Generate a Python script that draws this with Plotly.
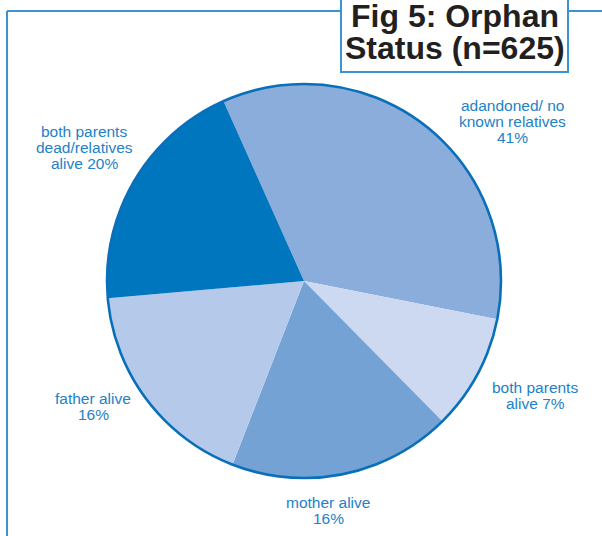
import plotly.graph_objects as go

# ---- data ----
categories = ["adandoned/ no<br>known relatives", "both parents<br>alive", "mother alive",
              "father alive", "both parents<br>dead/relatives<br>alive"]
slice_values = [34.8, 9.5, 18.3, 17.7, 19.7]          # slice sizes as drawn
label_pcts = ["41%", "7%", "16%", "16%", "20%"]          # printed percentages
slice_colors = ["#8aaddb", "#cdd9f0", "#74a2d5", "#b5caea", "#0076bf"]
title_lines = ["Fig 5: Orphan", "Status (n=625)"]

# label text as printed (line breaks as in the reference)
label_texts = [
    "adandoned/ no<br>known relatives<br>41%",
    "both parents<br>alive 7%",
    "mother alive<br>16%",
    "father alive<br>16%",
    "both parents<br>dead/relatives<br>alive 20%",
]
# label block centres (pixels) and first line y
label_pos = [(512, 105), (535, 387), (328, 502), (93, 398), (84, 131)]

W, H = 602, 536
def px(x):
    return x / W
def py(y):
    return 1 - y / H

cx, cy, r = 304, 281, 197
dom_x = [px(cx - r), px(cx + r)]
dom_y = [py(cy + r), py(cy - r)]

fig = go.Figure()
fig.add_trace(go.Pie(
    values=slice_values, labels=categories, sort=False, direction="clockwise",
    rotation=-24.1, marker=dict(colors=slice_colors, line=dict(width=0)),
    textinfo="none", hoverinfo="label+percent", domain=dict(x=dom_x, y=dom_y),
    showlegend=False,
))
# outer outline of the pie
fig.add_trace(go.Pie(
    values=[1], labels=["outline"], sort=False,
    marker=dict(colors=["rgba(0,0,0,0)"], line=dict(color="#0a6fb9", width=2.6)),
    textinfo="none", hoverinfo="skip", domain=dict(x=dom_x, y=dom_y),
    showlegend=False,
))

label_color = "#2381c6"
annotations = []
for text, (x, y0) in zip(label_texts, label_pos):
    for i, line in enumerate(text.split("<br>")):
        annotations.append(dict(
            x=px(x), y=py(y0 + 16 * i), xref="paper", yref="paper",
            text=line, showarrow=False, xanchor="center", yanchor="middle",
            font=dict(family="Liberation Sans, Arial, sans-serif", size=15.5, color=label_color),
        ))

for i, line in enumerate(title_lines):
    annotations.append(dict(
        x=px(454.5), y=py(16 + 32 * i), xref="paper", yref="paper",
        text="<b>" + line + "</b>", showarrow=False, xanchor="center", yanchor="middle",
        font=dict(family="Liberation Sans, Arial, sans-serif", size=32, color="#231f20"),
    ))

frame_color = "#3b93d2"
shapes = [
    # frame: top and left lines
    dict(type="line", xref="paper", yref="paper", x0=px(7), x1=1.02, y0=py(11), y1=py(11),
         line=dict(color=frame_color, width=2)),
    dict(type="line", xref="paper", yref="paper", x0=px(7), x1=px(7), y0=py(11), y1=-0.02,
         line=dict(color=frame_color, width=2)),
    # title box
    dict(type="rect", xref="paper", yref="paper", x0=px(341), x1=px(568), y0=py(72), y1=py(-10),
         fillcolor="white", line=dict(color=frame_color, width=2)),
]

fig.update_layout(
    width=W, height=H, margin=dict(l=0, r=0, t=0, b=0),
    paper_bgcolor="white", plot_bgcolor="white",
    annotations=annotations, shapes=shapes, showlegend=False,
)

fig.write_html("out.html", config={"displayModeBar": False},
               post_script="document.body.style.margin='0';")
